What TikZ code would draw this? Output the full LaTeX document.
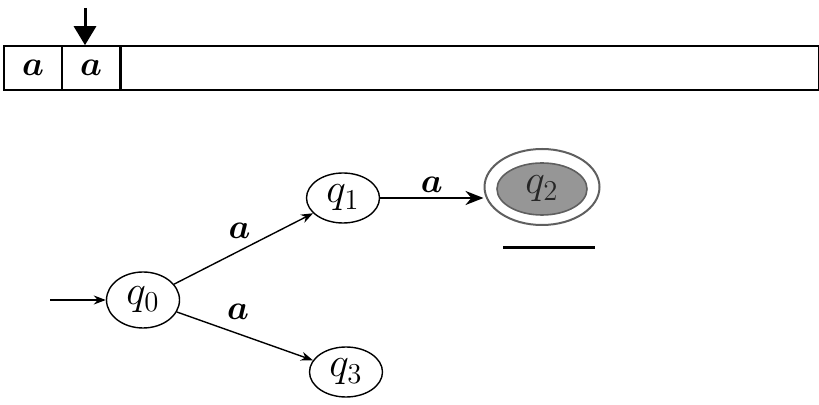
\documentclass[tikz,border=0pt]{standalone}
\usepackage{tikz}
\usetikzlibrary{arrows.meta, positioning, shapes.geometric}
\usepackage{amsmath, amssymb, bm}
\usepackage{xcolor}
\definecolor{finalgray}{RGB}{150,150,150}
\definecolor{finalrim}{RGB}{95,95,95}
\tikzset{
  cell/.style   = {draw, line width=0.8pt, minimum width=29pt, minimum height=22pt,
                   inner sep=0pt, font=\fontsize{17}{18}\selectfont},
  state/.style  = {ellipse, draw, line width=0.7pt, minimum width=36.5pt,
                   minimum height=25pt, inner sep=0pt, font=\fontsize{22}{24}\selectfont},
  accept/.style = {ellipse, draw=finalrim, line width=1pt, minimum width=57.5pt,
                   minimum height=38pt, inner sep=0pt},
  inner/.style  = {ellipse, draw=finalrim, fill=finalgray, line width=0.8pt,
                   minimum width=45pt, minimum height=26pt, inner sep=0pt,
                   font=\fontsize{22}{24}\selectfont},
  trans/.style  = {-{Stealth[length=6pt, width=4.5pt]}, line width=0.7pt},
  lbl/.style    = {font=\fontsize{17}{18}\selectfont, inner sep=1pt},
}

\begin{document}
\begin{tikzpicture}[x=0.5pt, y=-0.5pt]
  \useasboundingbox (0,0) rectangle (819,405);
  % input tape
  \node[cell, minimum width=349pt, anchor=west] (rest) at (120,68) {};
  \foreach \i in {1,2} {
    \node[cell] (c\i) at (58*\i-25,68) {$\bm{a}$};
  }
  % reading head
  \coordinate (head) at (85,8);
  \draw[-{Triangle[length=9.5pt, width=11pt]}, line width=1.5pt] (head) -- (head |- c2.north);
  % states
  \node[state, minimum height=28pt] (q0) at (143,300) {$q_0$};
  \node[state] (q1) at (343,198) {$q_1$};
  \node[state] (q3) at (346,372) {$q_3$};
  \node[accept] (q2) at (542,187) {};
  \node[inner] (q2in) at (542,189) {\color{black!85}$q_2$};
  \draw[line width=1.5pt] (503,248) -- (595,248);
  % transitions
  \coordinate (start) at (50,300);
  \draw[trans] (start) -- (q0);
  \draw[trans] (q0) -- node[lbl, above, yshift=4pt, xshift=-2pt] {$\bm{a}$} (q1);
  \draw[trans] (q0) -- node[lbl, above, pos=0.45, yshift=6pt] {$\bm{a}$} (q3);
  \draw[-{Stealth[length=9pt, width=7pt]}, line width=1.2pt] (q1.east) -- node[lbl, above, yshift=1pt] {$\bm{a}$} (q1.east -| q2.west);
\end{tikzpicture}
\end{document}
